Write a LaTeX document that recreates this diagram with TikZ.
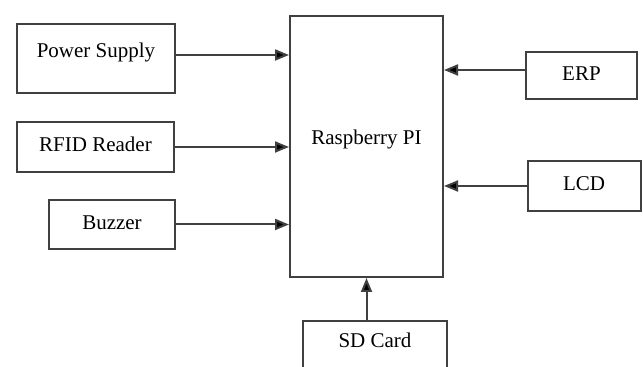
\documentclass[tikz,border=0pt]{standalone}
\usepackage{fontspec}
\setmainfont{Liberation Serif}
\usetikzlibrary{arrows.meta}

\begin{document}
\begin{tikzpicture}[x=0.5pt,y=-0.5pt]

    % Define styles
    \tikzset{
        block/.style={draw=black!75, line width=1pt, minimum width=#1, inner sep=0pt,
            font=\fontsize{10.5}{12.6}\selectfont, text height=7.5pt, text depth=2.5pt},
        block/.default=60pt,
        signal/.style={draw=black!75, line width=1pt, -{Triangle[length=7pt,width=5.5pt,fill=black]}}
    }

    % Fix the canvas size
    \useasboundingbox (0,0) rectangle (643,367);

    % Controller in the middle
    \node[block=76.5pt, minimum height=130.5pt, text depth=9pt] (rpi) at (366.5,146.5) {Raspberry PI};

    % Input blocks on the left
    \node[block=79pt, minimum height=34.5pt, text depth=8.7pt] (psu) at (96,58.5) {Power Supply};
    \node[block=78.5pt, minimum height=25pt] (rfid) at (95.5,147) {RFID Reader};
    \node[block=63pt, minimum height=24.5pt] (buzzer) at (112,224.5) {Buzzer};

    % Blocks on the right
    \node[block=55.5pt, minimum height=23.5pt] (erp) at (581.5,75.5) {ERP};
    \node[block=56.5pt, minimum height=25pt] (lcd) at (584,186) {LCD};

    % Storage below (bottom edge falls off the page)
    \node[block=72pt, minimum height=27pt, text depth=8pt] (sd) at (375,348) {SD Card};

    % Connections into the controller
    \draw[signal] ([yshift=1.75pt]psu.east) -- ([yshift=1.75pt]psu.east -| rpi.west);
    \draw[signal] (rfid.east) -- (rfid.east -| rpi.west);
    \draw[signal] (buzzer.east) -- (buzzer.east -| rpi.west);
    \draw[signal] ([yshift=2.75pt]erp.west) -- ([yshift=2.75pt]erp.west -| rpi.east);
    \draw[signal] (lcd.west) -- (lcd.west -| rpi.east);
    \draw[signal] (rpi.south |- sd.north) -- (rpi.south);

\end{tikzpicture}
\end{document}
